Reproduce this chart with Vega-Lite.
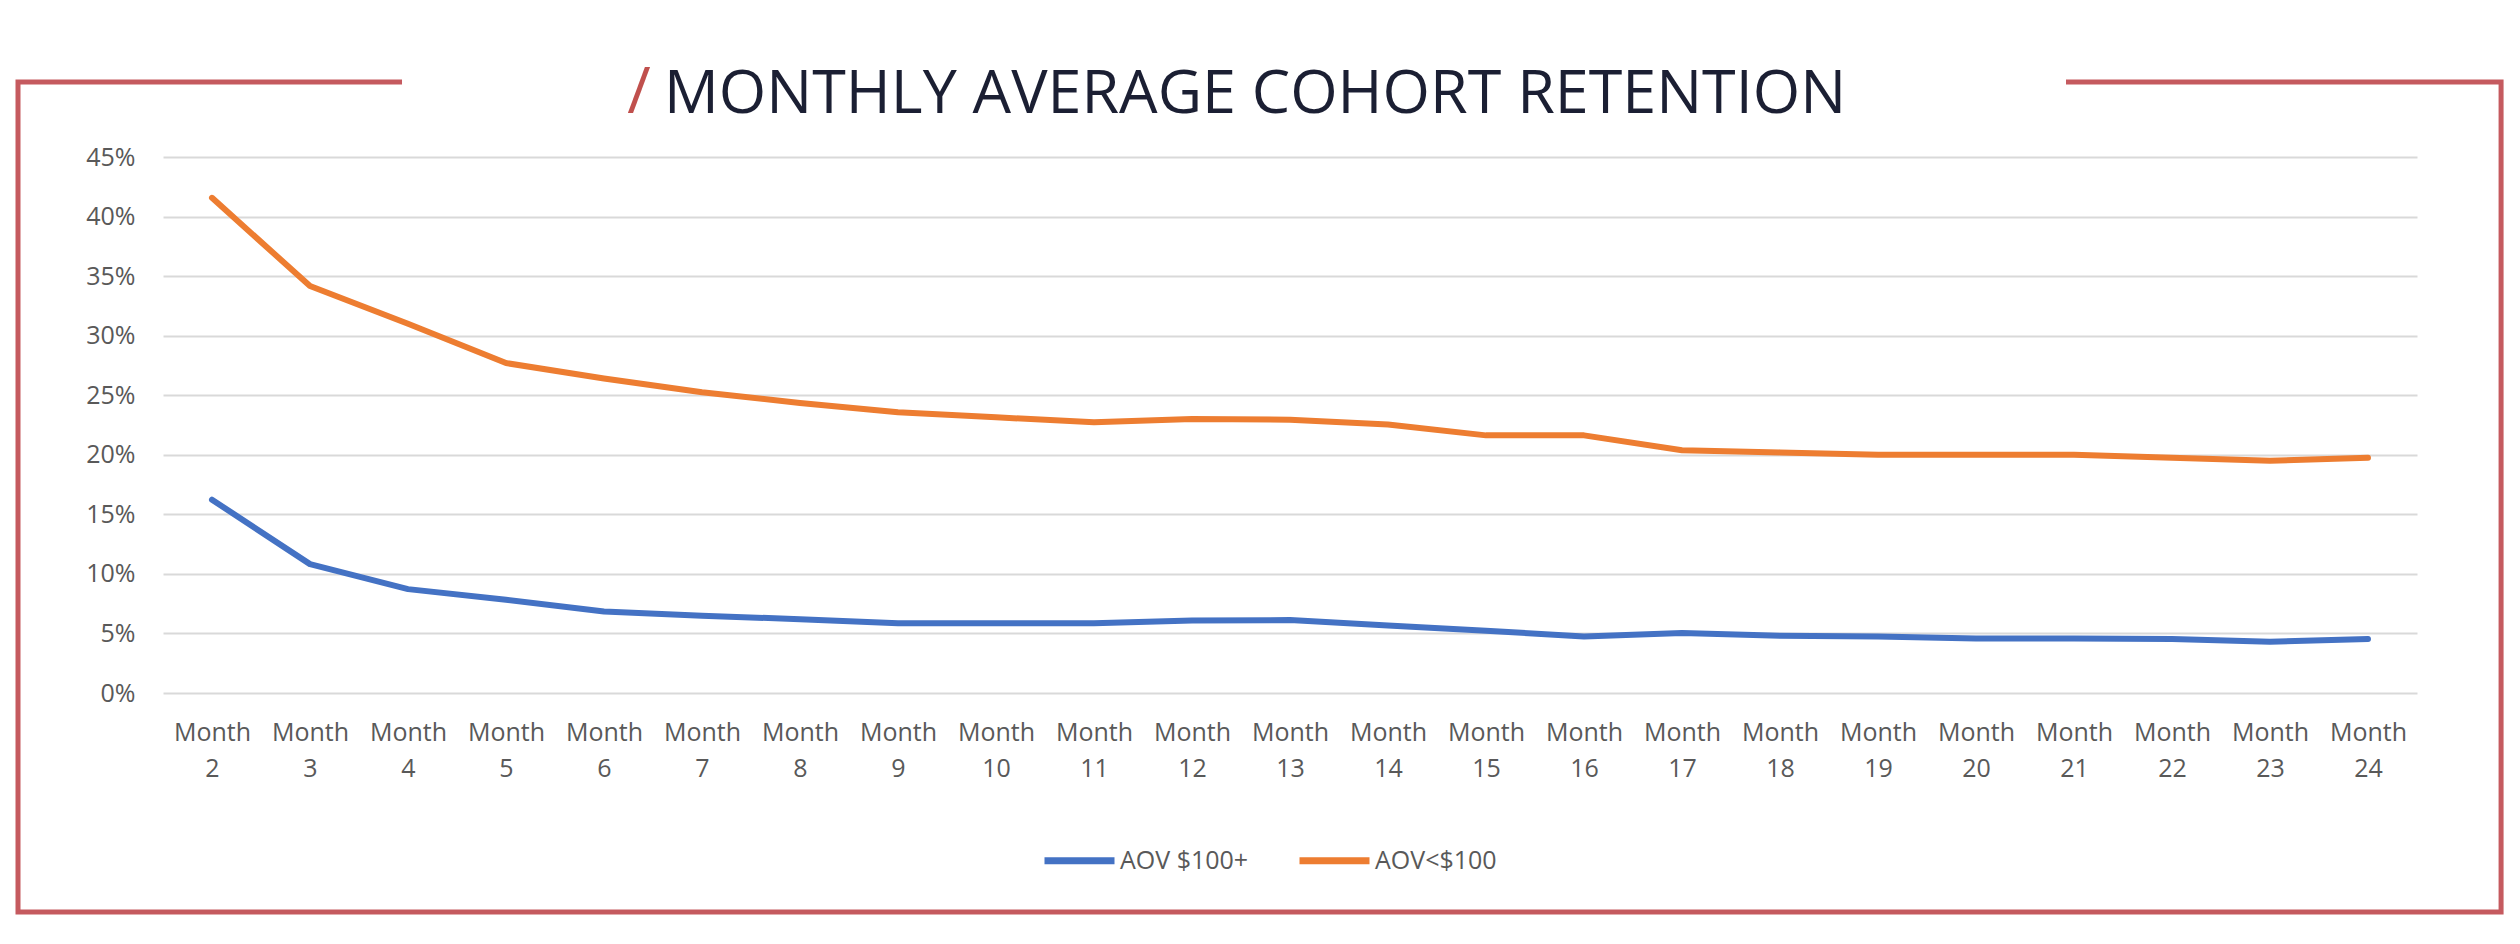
{
  "$schema": "https://vega.github.io/schema/vega-lite/v6.json",
  "width": 2254,
  "height": 536,
  "autosize": {"type": "none"},
  "padding": {"left": 163, "top": 157, "right": 103, "bottom": 251},
  "background": "white",
  "config": {
    "view": {"stroke": null},
    "font": "Open Sans",
    "axis": {
      "labelFont": "Open Sans",
      "labelFontSize": 25,
      "labelColor": "#595959",
      "domain": false,
      "ticks": false,
      "title": null
    },
    "legend": {
      "labelFont": "Open Sans",
      "labelFontSize": 25,
      "labelColor": "#595959"
    }
  },
  "resolve": {"scale": {"x": "independent", "y": "independent", "color": "independent"}},
  "layer": [
    {
      "data": {"values": [{}]},
      "mark": {"type": "rect", "fill": null, "stroke": "#c55a5f", "strokeWidth": 5},
      "encoding": {
        "x": {"datum": -0.06433, "type": "quantitative", "scale": {"domain": [0, 1]}, "axis": null},
        "x2": {"datum": 1.0373},
        "y": {"datum": -0.18386, "type": "quantitative", "scale": {"domain": [0, 0.45]}, "axis": null},
        "y2": {"datum": 0.51297}
      }
    },
    {
      "data": {"values": [{}]},
      "mark": {"type": "rect", "fill": "white", "stroke": null},
      "encoding": {
        "x": {"datum": 0.10604, "type": "quantitative", "scale": {"domain": [0, 1]}, "axis": null},
        "x2": {"datum": 0.84428},
        "y": {"datum": 0.5085, "type": "quantitative", "scale": {"domain": [0, 0.45]}, "axis": null},
        "y2": {"datum": 0.5175}
      }
    },
    {
      "data": {"values": [{}]},
      "mark": {"type": "text", "text": "/", "font": "Open Sans", "fontSize": 64, "color": "#c0504d", "align": "center", "baseline": "alphabetic"},
      "encoding": {
        "x": {"datum": 0.2112, "type": "quantitative", "scale": {"domain": [0, 1]}, "axis": null},
        "y": {"datum": 0.4869, "type": "quantitative", "scale": {"domain": [0, 0.45]}, "axis": null}
      }
    },
    {
      "data": {"values": [{}]},
      "mark": {"type": "text", "text": "MONTHLY AVERAGE COHORT RETENTION", "font": "Open Sans", "fontSize": 61, "fontWeight": "normal", "color": "#1b1f33", "align": "center", "baseline": "alphabetic"},
      "encoding": {
        "x": {"datum": 0.4845, "type": "quantitative", "scale": {"domain": [0, 1]}, "axis": null},
        "y": {"datum": 0.4869, "type": "quantitative", "scale": {"domain": [0, 0.45]}, "axis": null}
      }
    },
    {
      "data": {
        "values": [
          {"month": "Month 2", "series": "AOV $100+", "value": 0.1623},
          {"month": "Month 3", "series": "AOV $100+", "value": 0.1082},
          {"month": "Month 4", "series": "AOV $100+", "value": 0.0872},
          {"month": "Month 5", "series": "AOV $100+", "value": 0.0782},
          {"month": "Month 6", "series": "AOV $100+", "value": 0.0685},
          {"month": "Month 7", "series": "AOV $100+", "value": 0.0648},
          {"month": "Month 8", "series": "AOV $100+", "value": 0.062},
          {"month": "Month 9", "series": "AOV $100+", "value": 0.0586},
          {"month": "Month 10", "series": "AOV $100+", "value": 0.0586},
          {"month": "Month 11", "series": "AOV $100+", "value": 0.0586},
          {"month": "Month 12", "series": "AOV $100+", "value": 0.0609},
          {"month": "Month 13", "series": "AOV $100+", "value": 0.0612},
          {"month": "Month 14", "series": "AOV $100+", "value": 0.0567},
          {"month": "Month 15", "series": "AOV $100+", "value": 0.0522},
          {"month": "Month 16", "series": "AOV $100+", "value": 0.0475},
          {"month": "Month 17", "series": "AOV $100+", "value": 0.0503},
          {"month": "Month 18", "series": "AOV $100+", "value": 0.048},
          {"month": "Month 19", "series": "AOV $100+", "value": 0.0475},
          {"month": "Month 20", "series": "AOV $100+", "value": 0.0458},
          {"month": "Month 21", "series": "AOV $100+", "value": 0.0458},
          {"month": "Month 22", "series": "AOV $100+", "value": 0.0453},
          {"month": "Month 23", "series": "AOV $100+", "value": 0.043},
          {"month": "Month 24", "series": "AOV $100+", "value": 0.0453},
          {"month": "Month 2", "series": "AOV<$100", "value": 0.4157},
          {"month": "Month 3", "series": "AOV<$100", "value": 0.3417},
          {"month": "Month 4", "series": "AOV<$100", "value": 0.31},
          {"month": "Month 5", "series": "AOV<$100", "value": 0.277},
          {"month": "Month 6", "series": "AOV<$100", "value": 0.264},
          {"month": "Month 7", "series": "AOV<$100", "value": 0.2525},
          {"month": "Month 8", "series": "AOV<$100", "value": 0.2435},
          {"month": "Month 9", "series": "AOV<$100", "value": 0.2357},
          {"month": "Month 10", "series": "AOV<$100", "value": 0.2315},
          {"month": "Month 11", "series": "AOV<$100", "value": 0.2273},
          {"month": "Month 12", "series": "AOV<$100", "value": 0.23},
          {"month": "Month 13", "series": "AOV<$100", "value": 0.2295},
          {"month": "Month 14", "series": "AOV<$100", "value": 0.2255},
          {"month": "Month 15", "series": "AOV<$100", "value": 0.2163},
          {"month": "Month 16", "series": "AOV<$100", "value": 0.2163},
          {"month": "Month 17", "series": "AOV<$100", "value": 0.2038},
          {"month": "Month 18", "series": "AOV<$100", "value": 0.202},
          {"month": "Month 19", "series": "AOV<$100", "value": 0.2},
          {"month": "Month 20", "series": "AOV<$100", "value": 0.2},
          {"month": "Month 21", "series": "AOV<$100", "value": 0.2},
          {"month": "Month 22", "series": "AOV<$100", "value": 0.1975},
          {"month": "Month 23", "series": "AOV<$100", "value": 0.195},
          {"month": "Month 24", "series": "AOV<$100", "value": 0.1975}
        ]
      },
      "mark": {"type": "line", "strokeWidth": 6, "strokeCap": "round", "strokeJoin": "round"},
      "encoding": {
        "x": {
          "field": "month",
          "type": "ordinal",
          "sort": null,
          "scale": {"type": "point", "padding": 0.5},
          "axis": {
            "labelExpr": "split(datum.label, ' ')",
            "labelAngle": 0,
            "labelLineHeight": 36,
            "labelPadding": 27,
            "grid": false
          }
        },
        "y": {
          "field": "value",
          "type": "quantitative",
          "scale": {"domain": [0, 0.45]},
          "axis": {
            "values": [0, 0.05, 0.1, 0.15, 0.2, 0.25, 0.3, 0.35, 0.4, 0.45],
            "format": ".0%",
            "labelPadding": 28,
            "grid": true,
            "gridColor": "#d9d9d9",
            "gridWidth": 2
          }
        },
        "color": {
          "field": "series",
          "type": "nominal",
          "scale": {"domain": ["AOV $100+", "AOV<$100"], "range": ["#4472c4", "#ed7d31"]},
          "legend": {
            "title": null,
            "orient": "none",
            "direction": "horizontal",
            "legendX": 878,
            "legendY": 665,
            "padding": 0,
            "symbolType": "stroke",
            "symbolSize": 4900,
            "symbolStrokeWidth": 7,
            "labelOffset": 2,
            "columnPadding": 36
          }
        }
      }
    }
  ]
}
